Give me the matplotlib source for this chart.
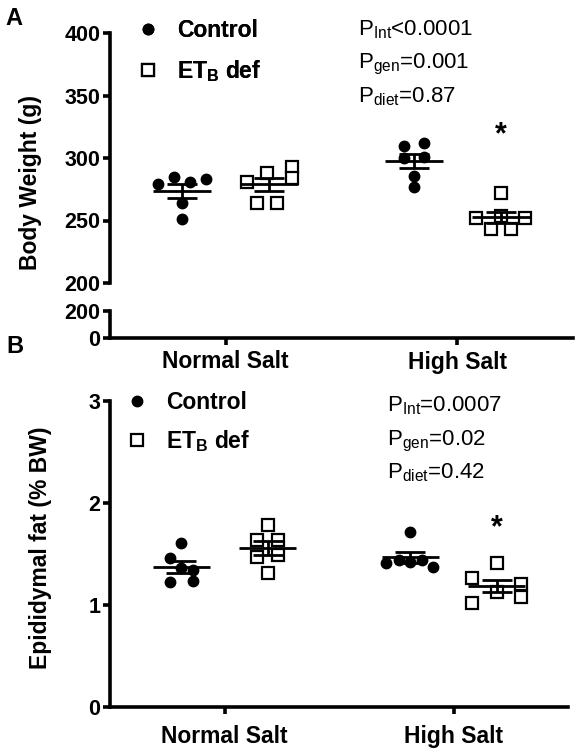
import numpy as np
import matplotlib
matplotlib.use("Agg")
import matplotlib.pyplot as plt
from matplotlib.lines import Line2D

plt.rcParams["font.family"] = ["Liberation Sans", "DejaVu Sans"]
plt.rcParams["mathtext.fontset"] = "custom"
plt.rcParams["mathtext.rm"] = "Liberation Sans"
plt.rcParams["mathtext.bf"] = "Liberation Sans:bold"
plt.rcParams["mathtext.it"] = "Liberation Sans:italic"

# ---- data ----
diets = ["Normal Salt", "High Salt"]
group_names = ["Control", r"ET$_\mathbf{B}$ def"]

# body weight (g)
bw_ctrl_ns = [279, 285, 281, 283, 264, 251]
bw_etb_ns = [281, 288, 293, 284, 264, 264]
bw_ctrl_hs = [310, 312, 300, 301, 286, 277]
bw_etb_hs = [252, 252, 243, 243, 254, 272]
bw_jit_ctrl_ns = [-0.104, -0.037, 0.035, 0.101, 0.0, 0.0]
bw_jit_etb_ns = [-0.097, -0.011, 0.097, 0.097, -0.054, 0.032]
bw_jit_ctrl_hs = [-0.04, 0.044, -0.04, 0.044, 0.0, 0.0]
bw_jit_etb_hs = [-0.108, 0.105, -0.043, 0.043, 0.0, 0.0]

# epididymal fat (% BW)
fat_ctrl_ns = [1.61, 1.46, 1.23, 1.24, 1.36, 1.34]
fat_etb_ns = [1.78, 1.64, 1.64, 1.47, 1.49, 1.31]
fat_ctrl_hs = [1.72, 1.41, 1.37, 1.44, 1.425, 1.44]
fat_etb_hs = [1.41, 1.27, 1.02, 1.21, 1.08, 1.13]
fat_jit_ctrl_ns = [0.0, -0.05, -0.05, 0.05, 0.0, 0.05]
fat_jit_etb_ns = [0.0, -0.044, 0.044, -0.044, 0.044, 0.0]
fat_jit_ctrl_hs = [0.0, -0.105, 0.10, -0.05, 0.0, 0.05]
fat_jit_etb_hs = [0.0, -0.106, -0.106, 0.105, 0.105, 0.0]

p_bw = [r"P$_\mathrm{Int}$<0.0001", r"P$_\mathrm{gen}$=0.001", r"P$_\mathrm{diet}$=0.87"]
p_fat = [r"P$_\mathrm{Int}$=0.0007", r"P$_\mathrm{gen}$=0.02", r"P$_\mathrm{diet}$=0.42"]

# ---- style ----
W, H = 580, 750
LW = 2.6
OFF = 0.188
MS_C = 7.5
MS_S = 8.0


def fx(px):
    return px / W


def fy(py):
    return 1 - py / H


def style_axis(ax):
    for s in ("top", "right"):
        ax.spines[s].set_visible(False)
    for s in ("left", "bottom"):
        ax.spines[s].set_linewidth(LW)
    ax.tick_params(width=LW, length=5, direction="out", pad=2,
                   labelsize=15.5)
    for lab in ax.get_xticklabels() + ax.get_yticklabels():
        lab.set_fontweight("bold")


def draw_group(ax, xc, vals, jit, kind):
    vals = np.asarray(vals, dtype=float)
    xs = xc + np.asarray(jit)
    if kind == "c":
        ax.plot(xs, vals, "o", ms=MS_C, color="black", zorder=3, clip_on=False)
    else:
        ax.plot(xs, vals, "s", ms=MS_S, mfc="white", mec="black", mew=1.6,
                zorder=3, clip_on=False)
    m = vals.mean()
    sem = vals.std(ddof=1) / np.sqrt(len(vals))
    ax.hlines(m, xc - 0.125, xc + 0.125, color="black", lw=2.0, zorder=4)
    ax.errorbar([xc], [m], yerr=[sem], fmt="none", ecolor="black",
                elinewidth=2.0, capsize=11, capthick=2.0, zorder=4)


def legend_for(ax, anchor, spacing):
    return ax.legend(
        handles=[Line2D([], [], ls="none", marker="o", ms=MS_C, color="black"),
                 Line2D([], [], ls="none", marker="s", ms=MS_S, mfc="white",
                        mec="black", mew=1.6)],
        labels=group_names, loc="upper left", bbox_to_anchor=anchor,
        bbox_transform=fig.transFigure, frameon=False, borderpad=0,
        borderaxespad=0, handlelength=1.0, handletextpad=0.75,
        labelspacing=spacing, prop={"size": 16.5, "weight": "bold"})


fig = plt.figure(figsize=(W / 100, H / 100), dpi=100)

# ---- panel A (broken axis) ----
axA = fig.add_axes([fx(110), fy(283), fx(463), 250 / H])
axA0 = fig.add_axes([fx(110), fy(338), fx(463), 27 / H])

xpos = np.arange(1, len(diets) + 1)
draw_group(axA, xpos[0] - OFF, bw_ctrl_ns, bw_jit_ctrl_ns, "c")
draw_group(axA, xpos[0] + OFF, bw_etb_ns, bw_jit_etb_ns, "s")
draw_group(axA, xpos[1] - OFF, bw_ctrl_hs, bw_jit_ctrl_hs, "c")
draw_group(axA, xpos[1] + OFF, bw_etb_hs, bw_jit_etb_hs, "s")

axA.set_xlim(0.5, 2.5)
axA.set_ylim(200, 400)
axA.set_yticks(np.arange(200, 401, 50))
axA.set_xticks([])
style_axis(axA)
axA.spines["bottom"].set_visible(False)
axA.set_ylabel("Body Weight (g)", fontsize=16.5, fontweight="bold")
axA.yaxis.set_label_coords(-0.147, 0.40)

axA0.set_xlim(0.5, 2.5)
axA0.set_ylim(0, 200)
axA0.set_yticks([0, 200])
axA0.set_xticks(xpos)
axA0.set_xticklabels(diets)
style_axis(axA0)
axA0.tick_params(axis="x", labelsize=16.5, pad=4)

axA.text(xpos[1] + OFF, 312, "*", ha="center", va="baseline",
         fontsize=22, fontweight="bold")

legA = legend_for(axA, (fx(137), fy(19)), 0.72)

for i, t in enumerate(p_bw):
    fig.text(fx(358), fy(35 + 33.5 * i), t, fontsize=16, va="baseline")

# ---- panel B ----
axB = fig.add_axes([fx(110), fy(707.3), fx(458), 306.6 / H])
draw_group(axB, xpos[0] - OFF, fat_ctrl_ns, fat_jit_ctrl_ns, "c")
draw_group(axB, xpos[0] + OFF, fat_etb_ns, fat_jit_etb_ns, "s")
draw_group(axB, xpos[1] - OFF, fat_ctrl_hs, fat_jit_ctrl_hs, "c")
draw_group(axB, xpos[1] + OFF, fat_etb_hs, fat_jit_etb_hs, "s")
axB.set_xlim(0.5, 2.5)
axB.set_ylim(0, 3)
axB.set_yticks([0, 1, 2, 3])
axB.set_xticks(xpos)
axB.set_xticklabels(diets)
style_axis(axB)
axB.tick_params(axis="x", labelsize=16.5, pad=8)
axB.set_ylabel("Epididymal fat (% BW)", fontsize=16.5, fontweight="bold")
axB.yaxis.set_label_coords(-0.127, 0.52)

axB.text(xpos[1] + OFF, 1.676, "*", ha="center", va="baseline",
         fontsize=22, fontweight="bold")

legend_for(axB, (fx(126), fy(391)), 0.62)
axA.add_artist(legA)

for i, t in enumerate(p_fat):
    fig.text(fx(387), fy(411.7 + 33.6 * i), t, fontsize=16, va="baseline")

# panel letters
fig.text(fx(5), fy(25), "A", fontsize=17, fontweight="bold", va="baseline")
fig.text(fx(6), fy(353), "B", fontsize=17, fontweight="bold", va="baseline")

fig.savefig("out.png", dpi=100, facecolor="white")
